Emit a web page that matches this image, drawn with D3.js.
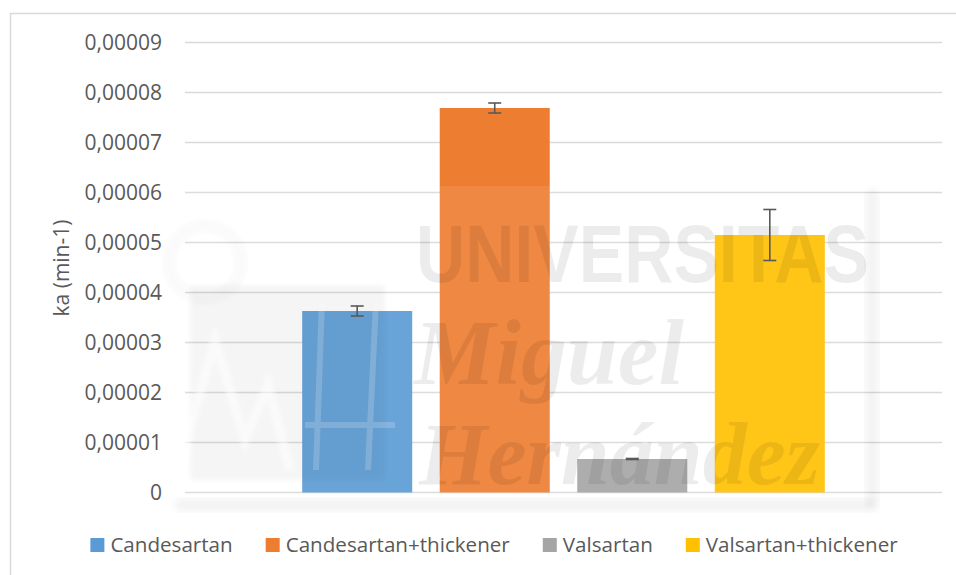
<!DOCTYPE html>
<html>
<head>
<meta charset="utf-8">
<script src="https://cdn.jsdelivr.net/npm/d3@7"></script>
<style>
  html, body { margin: 0; padding: 0; background: #ffffff; }
  svg { display: block; }
</style>
</head>
<body>
<svg id="chart" width="956" height="575"></svg>
<script>
// ---- data ----
const categories = ["ka"];
const seriesNames = ["Candesartan", "Candesartan+thickener", "Valsartan", "Valsartan+thickener"];
const seriesValues = [0.0000363, 0.0000769, 0.0000067, 0.0000515];
const seriesErrors = [0.0000010, 0.0000010, 0.0000001, 0.0000051];
const seriesColors = ["#5B9BD5", "#ED7D31", "#A5A5A5", "#FFC000"];
const yTicks = [0, 0.00001, 0.00002, 0.00003, 0.00004, 0.00005, 0.00006, 0.00007, 0.00008, 0.00009];
const yTitle = "ka (min-1)";
const watermarkLines = ["UNIVERSITAS", "Miguel", "Hernández"];

// ---- layout ----
const svg = d3.select("#chart");
const plot = { left: 185, right: 942, top: 42.5, bottom: 492.5 };
const textColor = "#595959";
const font = "'Open Sans', 'Noto Sans', sans-serif";

// outer chart border
svg.append("rect")
  .attr("x", 10.5).attr("y", 13.5)
  .attr("width", 1000).attr("height", 700)
  .attr("fill", "#ffffff")
  .attr("stroke", "#d9d9d9").attr("stroke-width", 1.5);

const y = d3.scaleLinear().domain([0, 0.00009]).range([plot.bottom, plot.top]);
const x0 = d3.scaleBand().domain(categories).range([plot.left, plot.right])
  .paddingInner(0).paddingOuter(0.188);
const x1 = d3.scaleBand().domain(seriesNames).range([0, x0.bandwidth()])
  .paddingInner(0.2).paddingOuter(0.1);

const locale = d3.formatLocale({ decimal: ",", thousands: ".", grouping: [3], currency: ["", "€"] });
const fmt = locale.format(".5f");
const tickFormat = d => d === 0 ? "0" : fmt(d);

// gridlines
svg.append("g")
  .selectAll("line")
  .data(yTicks)
  .join("line")
  .attr("x1", plot.left).attr("x2", plot.right)
  .attr("y1", d => y(d)).attr("y2", d => y(d))
  .attr("stroke", "#d9d9d9").attr("stroke-width", 1.3);

// y axis labels via d3 axis
const yAxis = d3.axisLeft(y).tickValues(yTicks).tickFormat(tickFormat).tickSize(0).tickPadding(0);
const gy = svg.append("g").attr("transform", `translate(${plot.left - 23},0)`).call(yAxis);
gy.select(".domain").remove();
gy.selectAll("text")
  .attr("fill", textColor)
  .style("font-family", font)
  .style("font-size", "21px");

// y title
svg.append("text")
  .attr("transform", `translate(69,268) rotate(-90)`)
  .attr("text-anchor", "middle")
  .attr("fill", textColor)
  .style("font-family", font)
  .style("font-size", "21px")
  .text(yTitle);

// bars
const rows = seriesNames.map((name, i) => ({ name, value: seriesValues[i], err: seriesErrors[i], color: seriesColors[i], cat: categories[0] }));
const gBars = svg.append("g");
gBars.selectAll("rect")
  .data(rows)
  .join("rect")
  .attr("x", d => x0(d.cat) + x1(d.name))
  .attr("width", x1.bandwidth())
  .attr("y", d => y(d.value))
  .attr("height", d => y(0) - y(d.value))
  .attr("fill", d => d.color);

// ---- watermark overlay (faint) ----
const wm = svg.append("g").attr("pointer-events", "none");
const defs = svg.append("defs");
defs.append("filter").attr("id", "blur").append("feGaussianBlur").attr("stdDeviation", 4);
defs.append("filter").attr("id", "blur2").append("feGaussianBlur").attr("stdDeviation", 2);
// soft shadow strips
wm.append("rect").attr("x", 175).attr("y", 499).attr("width", 700).attr("height", 12)
  .attr("fill", "#000").attr("opacity", 0.05).attr("filter", "url(#blur)");
wm.append("rect").attr("x", 866).attr("y", 190).attr("width", 12).attr("height", 318)
  .attr("fill", "#000").attr("opacity", 0.05).attr("filter", "url(#blur)");
// panel
wm.append("rect").attr("x", 166).attr("y", 186).attr("width", 703).attr("height", 316)
  .attr("fill", "#ffffff").attr("opacity", 0.09);
// logo hints
wm.append("rect").attr("x", 190).attr("y", 285).attr("width", 195).attr("height", 195)
  .attr("fill", "#000").attr("opacity", 0.035).attr("filter", "url(#blur2)");
wm.append("circle").attr("cx", 205).attr("cy", 262).attr("r", 36)
  .attr("fill", "none").attr("stroke", "#000").attr("stroke-width", 14).attr("opacity", 0.015)
  .attr("filter", "url(#blur2)");
wm.append("path")
  .attr("d", "M178,470 L215,340 L245,440 L268,385 L290,470")
  .attr("fill", "none").attr("stroke", "#fff").attr("stroke-width", 9).attr("opacity", 0.55)
  .attr("filter", "url(#blur2)");
wm.append("path")
  .attr("d", "M322,300 L316,470 M376,300 L368,470 M305,425 L395,425")
  .attr("fill", "none").attr("stroke", "#fff").attr("stroke-width", 6).attr("opacity", 0.18);
// watermark text lines (sized so their boxes do not overlap; each squeezed to its target width)
const wmStyle = [
  { x: 416, y: 282, w: 453, family: "'Liberation Sans', Arial, sans-serif", weight: "bold", style: "normal", size: 82 },
  { x: 414, y: 384, w: 270, family: "'Liberation Serif', serif", weight: "bold", style: "italic", size: 94 },
  { x: 419, y: 484, w: 403, family: "'Liberation Serif', serif", weight: "bold", style: "italic", size: 88 }
];
watermarkLines.forEach((t, i) => {
  const s = wmStyle[i];
  const tx = wm.append("text").attr("x", 0).attr("y", 0)
    .attr("fill", "#000").attr("opacity", 0.07)
    .style("font-family", s.family).style("font-weight", s.weight)
    .style("font-style", s.style)
    .style("font-size", s.size + "px")
    .text(t);
  const natural = tx.node().getComputedTextLength();
  const k = Math.min(1, s.w / natural);
  tx.attr("transform", `translate(${s.x},${s.y}) scale(${k},1)`);
});

// error bars
const capW = 13;
const gErr = svg.append("g").attr("stroke", "#595959").attr("stroke-width", 1.6).attr("fill", "none");
rows.forEach(d => {
  const cx = x0(d.cat) + x1(d.name) + x1.bandwidth() / 2;
  const yt = y(d.value + d.err), yb = y(d.value - d.err);
  gErr.append("line").attr("x1", cx).attr("x2", cx).attr("y1", yt).attr("y2", yb);
  gErr.append("line").attr("x1", cx - capW / 2).attr("x2", cx + capW / 2).attr("y1", yt).attr("y2", yt);
  gErr.append("line").attr("x1", cx - capW / 2).attr("x2", cx + capW / 2).attr("y1", yb).attr("y2", yb);
});

// legend
const legend = svg.append("g");
const items = legend.selectAll("g").data(rows).join("g");
items.append("rect").attr("width", 14).attr("height", 14).attr("y", -14).attr("fill", d => d.color);
items.append("text").attr("x", 20).attr("y", 0)
  .attr("fill", textColor)
  .style("font-family", font).style("font-size", "20.6px")
  .text(d => d.name);
const widths = [];
items.each(function () {
  widths.push(20 + this.querySelector("text").getComputedTextLength());
});
const gap = 33;
const total = d3.sum(widths) + gap * (widths.length - 1);
let start = 494 - total / 2;
items.attr("transform", (d, i) => {
  const tx = start;
  start += widths[i] + gap;
  return `translate(${tx},552)`;
});
</script>
</body>
</html>
